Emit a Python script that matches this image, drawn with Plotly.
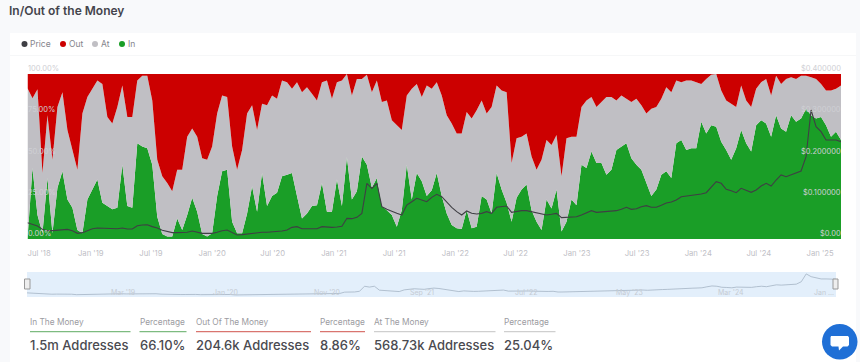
import pandas as pd
import plotly.graph_objects as go

W, H = 860, 362

dates = pd.date_range("2018-06-25", periods=164, freq="15D")

in_pct = [0,43,14.5,3.5,37,3.5,31,41,24,19,5.5,3.5,24,30,36,22,20,18,19,45,
 20,19,58,56,55,45,13.5,3,1.5,1.5,12.5,5.5,14.5,25,16.5,3,1.5,3.5,26,41,
 42,10.5,3.5,3.5,15.5,32,16.5,40,20,26,28,38,39,40,26,12.5,15.5,20,20.5,34,
 16.5,16.5,36,20,49.5,24,29,50,45,31,37,20,17.5,14.5,7.5,17.5,45,24,40,35,26,
 29.5,40,26,15.5,8.5,6.5,6,17.5,6.5,7.5,26,24,15.5,40,30,22,10.5,25,30,33,
 17.5,10.5,5.5,24,18.5,30,4.5,10.5,24,20.5,45,43,53,46,46,39,42,54,56,58,
 49,45,42,34,26,30,39,41,37,58,60,54,55,55,71,64,69,68,59,54,
 48,55,66,58,53,69,72,70,62,75,67,65,75,71,73,79,75,73,74,69,62,65,60]

out_pct = [8.7,14.7,9.3,60,25,52,20,11,34,46,58,24,14,9,4,6,26,30,20,7,
 26,26,4,1,1,16,52,62,66,71,58,58,38,33,38,51,52,44,24,13,
 14,44,58,46,24,19,34,18,19,13,15,4,5,9,5,11,8,12,16,5,
 4,15,5,4,0,13,3,3,0.5,11,4,17,16,28,31,34,13,9,6,14,7,
 9,5,13,25,30,36,36,23,27,22,16,24,20,7,10,11,54,39,38,36,
 50,58,52,40,43,37,62,39,38,38,20,16,14,20,17,14,14,16,13,15,
 17,15,19,24,21,20,15,8,11,4,5,4,4,5,6,3,0.5,0,10,16,
 18,20,7,16,20,9,5,3,13,1,6,3,2,3,1,1,2,3,6,10,10,9,7]

at_pct = [round(100 - a - b, 1) for a, b in zip(in_pct, out_pct)]

price = [.0396,.0347,.0315,.0234,.0202,.0202,.0218,.0226,.0234,.0202,.0137,.0154,.0202,.025,.0267,.0259,.025,.0242,.025,.0267,
 .0242,.0242,.0323,.034,.0347,.030,.0267,.021,.0178,.0154,.0154,.0154,.0162,.0194,.017,.0137,.0137,.0137,.0162,.0202,
 .0218,.0162,.0097,.0105,.0121,.0137,.0154,.0162,.0162,.017,.0178,.0194,.0218,.0283,.0299,.025,.025,.025,.025,.0299,
 .0283,.0283,.0291,.0307,.0501,.0493,.0525,.0622,.135,.1228,.135,.0784,.0719,.0663,.0622,.0582,.0824,.0905,.0986,.0945,.0905,
 .101,.1083,.1026,.0889,.0768,.0663,.0582,.0679,.0622,.0606,.0622,.0663,.0622,.0768,.0784,.08,.0646,.0671,.0687,.0687,
 .0663,.0638,.0606,.0582,.0598,.0622,.0517,.0525,.0541,.0541,.0582,.0638,.0687,.0646,.0655,.0663,.0671,.0687,.0719,.0768,
 .0719,.0735,.0784,.0808,.0768,.0768,.0816,.0873,.0897,.0945,.1026,.1042,.1051,.1067,.1091,.1123,.1269,.139,.135,.1204,
 .1172,.1123,.1228,.1188,.1131,.1188,.1285,.135,.1285,.143,.1552,.1511,.1552,.1592,.1648,.1996,.3127,.2723,.2602,.24,.24,.24,.236]

x_tick_dates = ["2018-07-30","2019-01-01","2019-07-01","2020-01-01","2020-07-01","2021-01-01","2021-07-01",
                "2022-01-01","2022-07-01","2023-01-01","2023-07-01","2024-01-01","2024-07-01","2025-01-01"]
x_tick_text = ["Jul '18","Jan '19","Jul '19","Jan '20","Jul '20","Jan '21","Jul '21",
               "Jan '22","Jul '22","Jan '23","Jul '23","Jan '24","Jul '24","Jan '25"]
pct_ticks = [100, 75, 50, 25, 0]
pct_labels = ["100.00%", "75.00%", "50.00%", "25.00%", "0.00%"]
price_ticks = [0.4, 0.3, 0.2, 0.1, 0]
price_labels = ["$0.400000", "$0.300000", "$0.200000", "$0.100000", "$0.00"]
nav_dates = ["2019-04-11","2020-02-16","2020-12-19","2021-10-02","2022-08-11","2023-06-21","2024-04-21","2025-01-29"]
nav_text = ["Mar '19","Jan '20","Nov '20","Sep '21","Jul '22","May '23","Mar '24","Jan ..."]

legend_names = ["Price", "Out", "At", "In"]
stat_heads = ["In The Money", "Percentage", "Out Of The Money", "Percentage", "At The Money", "Percentage"]
stat_values = ["1.5m Addresses", "66.10%", "204.6k Addresses", "8.86%", "568.73k Addresses", "25.04%"]

C_RED, C_GREY, C_GREEN, C_PRICE = "#cc0000", "#c0bfc4", "#1a9e27", "#3f3f44"
FONT = "Inter, 'Noto Sans', sans-serif"

fx = lambda p: p / W
fy = lambda p: 1 - p / H

fig = go.Figure()
for name, vals, col in [("In", in_pct, C_GREEN), ("At", at_pct, C_GREY), ("Out", out_pct, C_RED)]:
    fig.add_trace(go.Scatter(x=dates, y=vals, name=name, stackgroup="one", mode="lines",
                             line=dict(width=0, color=col), fillcolor=col, hoverinfo="skip"))
fig.add_trace(go.Scatter(x=dates, y=price, name="Price", mode="lines", yaxis="y2",
                         line=dict(width=1.1, color=C_PRICE), hoverinfo="skip"))
fig.add_trace(go.Scatter(x=dates, y=price, name="Navigator", mode="lines", xaxis="x2", yaxis="y3",
                         line=dict(width=0.8, color="#a5b4c4"), hoverinfo="skip"))

shapes, ann = [], []

def rect(x0, y0, x1, y1, fill, line=None, layer="below"):
    shapes.append(dict(type="rect", xref="paper", yref="paper", x0=fx(x0), x1=fx(x1), y0=fy(y1), y1=fy(y0),
                       fillcolor=fill, line=dict(width=1 if line else 0, color=line or fill), layer=layer))

def text(x, y, s, size, color, anchor="left", weight=400):
    ann.append(dict(xref="paper", yref="paper", x=fx(x), y=fy(y), text=s, showarrow=False, xanchor=anchor,
                    yanchor="middle", borderpad=0,
                    font=dict(family=FONT, size=size, color=color, weight=weight)))

# card
rect(10, 33, 856, 362, "#ffffff")
rect(10, 55, 856, 55.8, "#f3f4f6")
# navigator band
rect(27, 272, 836, 297, "#e3effb")

text(8, 10, "In/Out of the Money", 12, "#44444c", weight=600)

for nm, dot, tx, col in zip(legend_names, [24.5, 63, 95, 122], [30, 69, 101, 127.5],
                            [C_PRICE, C_RED, C_GREY, C_GREEN]):
    shapes.append(dict(type="circle", xref="paper", yref="paper", x0=fx(dot - 3), x1=fx(dot + 3),
                       y0=fy(47), y1=fy(41), fillcolor=col, line=dict(width=0)))
    text(tx - 1, 44, nm, 8.5, "#85858c")

# y labels sit just above their gridlines
for v, s in zip(pct_ticks, pct_labels):
    ann.append(dict(xref="paper", yref="y", x=fx(27), y=v, text=s, showarrow=False, xanchor="left", yanchor="bottom",
                    borderpad=0, font=dict(family=FONT, size=7.5, color="#cfcfd4")))
for v, s in zip(price_ticks, price_labels):
    ann.append(dict(xref="paper", yref="y2", x=fx(842), y=v, text=s, showarrow=False, xanchor="right", yanchor="bottom",
                    borderpad=0, font=dict(family=FONT, size=7.5, color="#cfcfd4")))
for d, s in zip(nav_dates, nav_text):
    ann.append(dict(xref="x2", yref="paper", x=d, y=fy(292), text=s, showarrow=False, xanchor="center", yanchor="middle",
                    font=dict(family=FONT, size=7, color="#c5cbd3")))

# navigator handles
rect(24.5, 279, 30, 289, "#eeeeee", "#999999", "above")
rect(833, 279, 838, 289, "#eeeeee", "#999999", "above")

# stat row
stat_x = [(30, 130.5), (139.5, 186.5), (196, 311), (320, 365), (374, 495.5), (504, 555.5)]
stat_col = ["#7dbb80", "#7dbb80", "#d9756f", "#d9756f", "#cfcfcf", "#cfcfcf"]
for (x0, x1), c, h, v in zip(stat_x, stat_col, stat_heads, stat_values):
    rect(x0, 331, x1, 332.2, c)
    text(x0 - 1, 321.5, h, 8.3, "#9b9ba1")
    text(x0 - 1, 345, v, 13, "#4a4a50", weight=500)

# chat bubble
shapes.append(dict(type="circle", xref="paper", yref="paper", x0=fx(822), x1=fx(857.5), y0=fy(359.5), y1=fy(324),
                   fillcolor="#1f6fd6", line=dict(width=0)))
def path(pts):
    return "M " + " L ".join(f"{fx(a):.5f},{fy(b):.5f}" for a, b in pts) + " Z"
shapes.append(dict(type="path", xref="paper", yref="paper",
                   path=path([(831, 336), (848, 336), (849, 337.5), (849, 345), (847.5, 346.5), (843, 346.5),
                              (839, 350.5), (838.5, 346.5), (832, 346.5), (830.5, 345), (830.5, 337.5)]),
                   fillcolor="#ffffff", line=dict(width=0)))

fig.update_layout(
    width=W, height=H, margin=dict(l=0, r=0, t=0, b=0, autoexpand=False),
    paper_bgcolor="#f8f9fb", plot_bgcolor="rgba(0,0,0,0)",
    showlegend=False, shapes=shapes, annotations=ann,
    xaxis=dict(domain=[fx(27.5), fx(841)], range=[dates[0], dates[-1]], tickmode="array",
               tickvals=x_tick_dates, ticktext=x_tick_text, showgrid=False, zeroline=False,
               ticks="outside", ticklen=7, tickcolor="rgba(0,0,0,0)", anchor="y",
               tickfont=dict(family=FONT, size=7.7, color="#c0c0c6")),
    yaxis=dict(domain=[fy(239), fy(74)], range=[0, 100], showticklabels=False, showgrid=False, zeroline=False, anchor="x"),
    yaxis2=dict(domain=[fy(239), fy(74)], range=[0, 0.4], overlaying="y", side="right", showticklabels=False,
                showgrid=False, zeroline=False, anchor="x"),
    xaxis2=dict(domain=[fx(27), fx(836)], range=[dates[0], dates[-1]], showticklabels=False, showgrid=False,
                zeroline=False, anchor="y3"),
    yaxis3=dict(domain=[fy(297), fy(272)], range=[-0.02, 0.34], showticklabels=False, showgrid=False,
                zeroline=False, anchor="x2"),
)

fig.write_html("out.html", post_script="document.body.style.margin='0';document.body.style.background='#f8f9fb';",
               config=dict(displayModeBar=False))
